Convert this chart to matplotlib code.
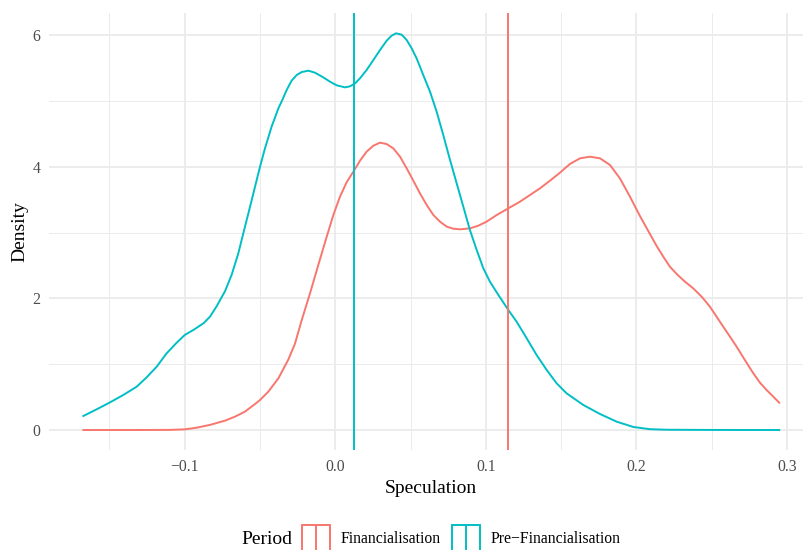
import matplotlib
matplotlib.use("Agg")
import matplotlib.pyplot as plt
from matplotlib.patches import Rectangle
from matplotlib.lines import Line2D

# ---- data ----
fin_x = [-0.1673, -0.1319, -0.1098, -0.1000, -0.0920, -0.0832, -0.0732, -0.0666, -0.0600, -0.0533,
         -0.0500, -0.0445, -0.0378, -0.0312, -0.0268, -0.0223, -0.0168, -0.0113, -0.0057, -0.0013,
         0.0031, 0.0075, 0.0120, 0.0164, 0.0208, 0.0253, 0.0297, 0.0341, 0.0385, 0.0430,
         0.0474, 0.0518, 0.0562, 0.0607, 0.0651, 0.0695, 0.0740, 0.0784, 0.0828, 0.0894,
         0.0950, 0.1005, 0.1072, 0.1149, 0.1226, 0.1293, 0.1359, 0.1426, 0.1492, 0.1558,
         0.1625, 0.1691, 0.1758, 0.1824, 0.1890, 0.1957, 0.2023, 0.2090, 0.2134, 0.2178,
         0.2222, 0.2267, 0.2322, 0.2377, 0.2433, 0.2488, 0.2532, 0.2576, 0.2621, 0.2665,
         0.2720, 0.2776, 0.2820, 0.2864, 0.2909, 0.2948]
fin_y = [0.0, 0.0, 0.002, 0.010, 0.035, 0.078, 0.142, 0.203, 0.279, 0.395,
         0.456, 0.582, 0.785, 1.070, 1.310, 1.670, 2.076, 2.506, 2.937, 3.266,
         3.544, 3.762, 3.924, 4.091, 4.228, 4.319, 4.365, 4.344, 4.279, 4.152,
         3.975, 3.788, 3.595, 3.418, 3.266, 3.165, 3.089, 3.058, 3.048, 3.063,
         3.104, 3.165, 3.266, 3.367, 3.468, 3.570, 3.671, 3.788, 3.909, 4.041,
         4.127, 4.152, 4.127, 4.026, 3.823, 3.544, 3.251, 2.975, 2.795, 2.633,
         2.481, 2.370, 2.253, 2.152, 2.025, 1.873, 1.722, 1.570, 1.418, 1.266,
         1.063, 0.861, 0.719, 0.608, 0.506, 0.415]

pre_x = [-0.1673, -0.1585, -0.1500, -0.1408, -0.1319, -0.1253, -0.1186, -0.1120, -0.1053, -0.1000,
         -0.0943, -0.0876, -0.0832, -0.0788, -0.0732, -0.0688, -0.0644, -0.0611, -0.0566, -0.0533,
         -0.0500, -0.0467, -0.0423, -0.0378, -0.0352, -0.0323, -0.0290, -0.0256, -0.0223, -0.0179,
         -0.0135, -0.0080, -0.0035, 0.0009, 0.0064, 0.0098, 0.0131, 0.0164, 0.0208, 0.0253,
         0.0297, 0.0341, 0.0374, 0.0403, 0.0441, 0.0474, 0.0507, 0.0540, 0.0584, 0.0629,
         0.0673, 0.0717, 0.0762, 0.0806, 0.0850, 0.0894, 0.0939, 0.0983, 0.1027, 0.1083,
         0.1149, 0.1204, 0.1271, 0.1337, 0.1404, 0.1470, 0.1536, 0.1647, 0.1758, 0.1868,
         0.1979, 0.2090, 0.2200, 0.2500, 0.2948]
pre_y = [0.213, 0.314, 0.415, 0.532, 0.658, 0.800, 0.962, 1.165, 1.327, 1.443,
         1.519, 1.620, 1.722, 1.880, 2.110, 2.360, 2.684, 2.988, 3.393, 3.697,
         4.000, 4.279, 4.608, 4.886, 5.013, 5.165, 5.307, 5.393, 5.438, 5.458,
         5.428, 5.357, 5.291, 5.236, 5.205, 5.221, 5.266, 5.342, 5.469, 5.621,
         5.772, 5.914, 5.990, 6.026, 6.005, 5.924, 5.798, 5.646, 5.393, 5.139,
         4.836, 4.481, 4.101, 3.747, 3.393, 3.038, 2.734, 2.456, 2.253, 2.051,
         1.823, 1.646, 1.393, 1.139, 0.911, 0.709, 0.557, 0.380, 0.243, 0.127,
         0.046, 0.012, 0.004, 0.001, 0.0]

period_labels = ["Financialisation", "Pre\u2212Financialisation"]
period_colors = ["#F8766D", "#00BFC4"]
period_means = [0.1149, 0.0124]

x_major = [-0.1, 0.0, 0.1, 0.2, 0.3]
x_major_labels = ["\u22120.1", "0.0", "0.1", "0.2", "0.3"]
x_minor = [-0.15, -0.05, 0.05, 0.15, 0.25]
y_major = [0, 2, 4, 6]
y_major_labels = ["0", "2", "4", "6"]
y_minor = [1, 3, 5]

# ---- figure ----
W, H = 804, 550
plt.rcParams['font.family'] = ['Liberation Serif', 'DejaVu Serif']
fig = plt.figure(figsize=(W / 100, H / 100), dpi=100)

xlim = (-0.1904, 0.3179)
ylim = (-0.30, 6.33)
px_left, px_right = 48.6, 814.0
px_top, px_bottom = 13.3, 449.75
ax = fig.add_axes([px_left / W, 1 - px_bottom / H, (px_right - px_left) / W, (px_bottom - px_top) / H])
ax.set_xlim(*xlim)
ax.set_ylim(*ylim)
for s in ax.spines.values():
    s.set_visible(False)

ax.set_xticks(x_major)
ax.set_xticklabels(x_major_labels)
ax.set_xticks(x_minor, minor=True)
ax.set_yticks(y_major)
ax.set_yticklabels(y_major_labels)
ax.set_yticks(y_minor, minor=True)
ax.tick_params(which='both', length=0)
ax.tick_params(axis='x', which='major', pad=6.5, labelsize=11.3, labelcolor='#4D4D4D')
ax.tick_params(axis='y', which='major', pad=6.0, labelsize=11.3, labelcolor='#4D4D4D')
ax.grid(which='major', color='#EBEBEB', lw=1.3)
ax.grid(which='minor', color='#EBEBEB', lw=0.7)
ax.set_axisbelow(True)

ax.plot(fin_x, fin_y, color=period_colors[0], lw=1.4, solid_joinstyle='round')
ax.plot(pre_x, pre_y, color=period_colors[1], lw=1.4, solid_joinstyle='round')
for m, c in zip(period_means, period_colors):
    ax.axvline(m, color=c, lw=1.4)

ax.set_xlabel("Speculation", fontsize=14, labelpad=4)
ax.set_ylabel("Density", fontsize=14, labelpad=3)

# ---- legend (bottom) ----
def fx(px):
    return px / W

def fy(py):
    return 1 - py / H

fig.text(fx(241), fy(539), "Period", fontsize=14, ha='left', va='center')
key_lefts = [302, 452]
text_lefts = [341, 491]
key_w, key_top, key_h = 28, 525, 28
for kl, tl, lab, col in zip(key_lefts, text_lefts, period_labels, period_colors):
    fig.add_artist(Rectangle((fx(kl), fy(key_top + key_h)), key_w / W, key_h / H,
                             transform=fig.transFigure, facecolor='white',
                             edgecolor=col, lw=1.4))
    fig.add_artist(Line2D([fx(kl + key_w / 2)] * 2, [fy(key_top), fy(key_top + key_h)],
                          transform=fig.transFigure, color=col, lw=1.4))
    fig.text(fx(tl), fy(539), lab, fontsize=11.3, ha='left', va='center')

fig.savefig("out.png", dpi=100)
